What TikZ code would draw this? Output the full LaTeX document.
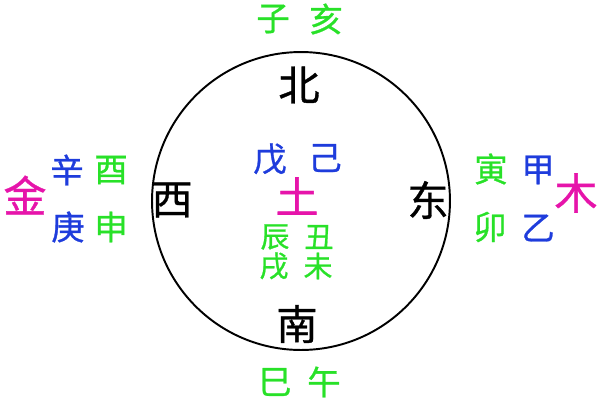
\documentclass[tikz,border=0pt]{standalone}
\usepackage{fontspec}
\newfontfamily\cjk[FakeBold=0.8]{Noto Sans CJK SC}
\definecolor{zhigreen}{RGB}{40,225,40}
\definecolor{ganblue}{RGB}{30,60,220}
\definecolor{xingred}{RGB}{230,20,170}
\tikzset{
  fang/.style={font=\cjk\fontsize{23.5}{24}\selectfont, text=black},
  gan/.style={font=\cjk\fontsize{19}{19}\selectfont, text=ganblue},
  zhi/.style={font=\cjk\fontsize{19}{19}\selectfont, text=zhigreen},
  zhis/.style={font=\cjk\fontsize{16.5}{17}\selectfont, text=zhigreen},
  xing/.style={font=\cjk\fontsize{24.5}{25}\selectfont, text=xingred}
}
\begin{document}
\begin{tikzpicture}[x=0.02cm,y=-0.02cm]
      \useasboundingbox (0,0) rectangle (600,400);
      \node[draw,circle,line width=1.1pt,inner sep=0pt,minimum size=5.96cm] (yuan) at (301,201) {};

      \node[fang] (bei) at (299,85) {北};
      \node[fang] (nan) at (297,324) {南};
      \node[fang] (xi) at (172,200) {西};
      \node[fang] (dong) at (428,200) {东};

      \node[zhi] (zi) at (273,19) {子};
      \node[zhi] (hai) at (326,19) {亥};
      \node[zhi] (si) at (275,382) {巳};
      \node[zhi] (wu) at (324,382) {午};

      \node[xing] (jin) at (25,195) {金};
      \node[gan] (xin) at (67,170) {辛};
      \node[zhi] (you) at (111,170) {酉};
      \node[gan] (geng) at (68,227) {庚};
      \node[zhi] (shen) at (111,227) {申};

      \node[xing] (mu) at (576,193) {木};
      \node[zhi] (yin) at (491,169) {寅};
      \node[gan] (jia) at (538,170) {甲};
      \node[zhi] (mao) at (490,227) {卯};
      \node[gan] (yi) at (538,228) {乙};

      \node[gan] (wuG) at (270,159) {戊};
      \node[gan] (ji) at (325,158) {己};
      \node[xing] (tu) at (297,196) {土};
      \node[zhis] (chen) at (275,237) {辰};
      \node[zhis] (chou) at (319,237) {丑};
      \node[zhis] (xu) at (274,266) {戌};
      \node[zhis] (wei) at (318,266) {未};
    \end{tikzpicture}
\end{document}
